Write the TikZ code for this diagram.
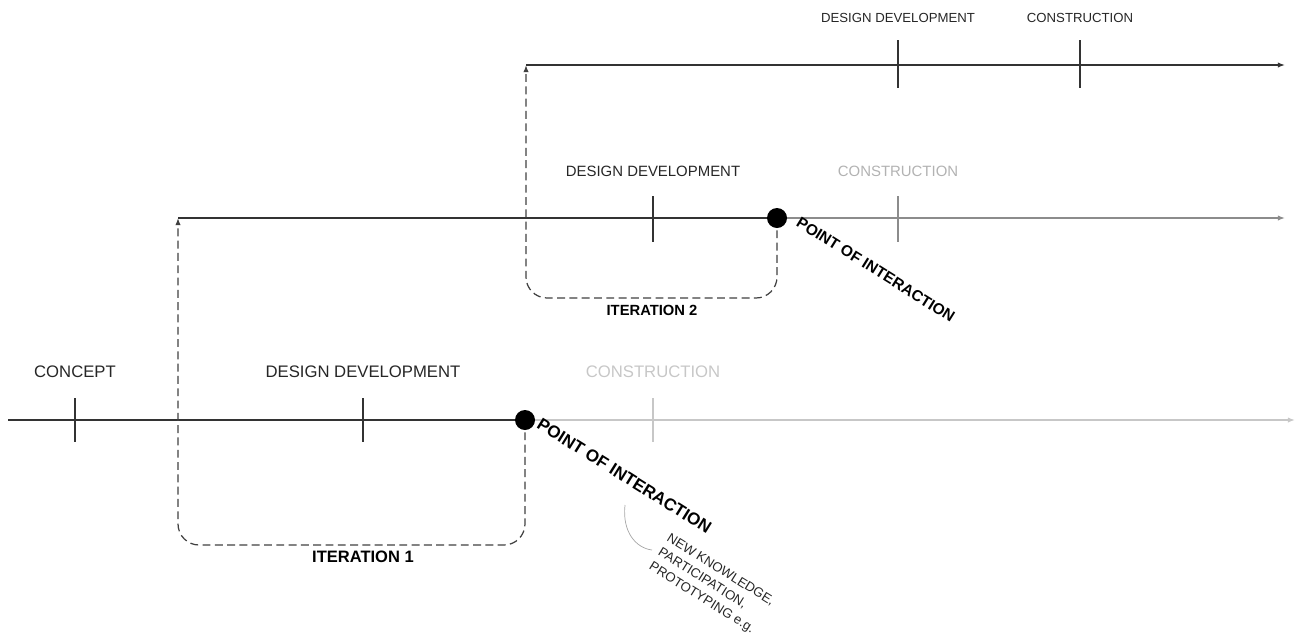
\documentclass[tikz,border=0pt]{standalone}
\usepackage{fontspec}
\setmainfont{Liberation Sans}
\usetikzlibrary{positioning, arrows.meta, calc}

\begin{document}
\begin{tikzpicture}[
    x=0.02cm, y=-0.02cm,
    % line styles
    phase/.style={draw=black!80, line width=0.9pt},
    fade/.style={draw=black!45, line width=0.9pt},
    faint/.style={draw=black!22, line width=0.9pt},
    phasetick/.style={draw=black!80, line width=0.6pt},
    iter/.style={draw=black!75, line width=0.7pt, dash pattern=on 4.5pt off 2.5pt, rounded corners=12pt},
    tip/.style={-{Latex[length=4pt, width=3pt]}},
    % node styles
    poi/.style={circle, fill=black, inner sep=0pt, minimum size=0.4cm},
    stage/.style={text=black!85, inner sep=0pt},
    poitext/.style={rotate=-32, anchor=north west, inner sep=0pt, font=\bfseries\fontsize{9.7}{11}\selectfont},
    itertext/.style={font=\bfseries, inner sep=0pt}
]
\useasboundingbox (0,0) rectangle (1297,637);

% --- coordinates of the three timelines ---
\coordinate (start1) at (8,420);
\coordinate (int1) at (525,420);
\coordinate (end1) at (1295,420);
\coordinate (start2) at (178,218);
\coordinate (int2) at (777,218);
\coordinate (end2) at (1285,218);
\coordinate (start3) at (526,65);
\coordinate (end3) at (1285,65);

% --- first timeline ---
\draw[phase] (start1) -- (int1);
\draw[faint, tip] (int1) -- (end1);
\foreach \x in {75,363} \draw[phasetick] (\x,398) -- (\x,442);
\draw[phasetick, draw=black!22] (653,398) -- (653,442);
\node[stage, font=\fontsize{9.5}{11}\selectfont] (concept) at (75,372) {CONCEPT};
\node[stage, font=\fontsize{9.5}{11}\selectfont] (dd1) at (363,372) {DESIGN DEVELOPMENT};
\node[stage, text=black!22, font=\fontsize{9.5}{11}\selectfont] (con1) at (653,372) {CONSTRUCTION};

% --- iteration 1 ---
\draw[iter, tip] (int1) -- (int1 |- 0,545) -- (start2 |- 0,545) -- (start2);
\node[itertext, font=\bfseries\fontsize{9.4}{11}\selectfont] (iter1) at (363,557) {ITERATION 1};

% --- second timeline ---
\draw[phase] (start2) -- (int2);
\draw[fade, tip] (int2) -- (end2);
\draw[phasetick] (653,196) -- (653,242);
\draw[phasetick, draw=black!45] (898,196) -- (898,242);
\node[stage, font=\fontsize{8.5}{10}\selectfont] (dd2) at (653,171) {DESIGN DEVELOPMENT};
\node[stage, text=black!30, font=\fontsize{8.5}{10}\selectfont] (con2) at (898,171) {CONSTRUCTION};

% --- iteration 2 ---
\draw[iter, tip] (int2) -- (int2 |- 0,298) -- (start3 |- 0,298) -- (start3);
\node[itertext, font=\bfseries\fontsize{8.4}{10}\selectfont] (iter2) at (652,310) {ITERATION 2};

% --- third timeline ---
\draw[phase, tip] (start3) -- (end3);
\foreach \x in {898,1080} \draw[phasetick] (\x,40) -- (\x,88);
\node[stage, font=\fontsize{7.5}{9}\selectfont] (dd3) at (898,18) {DESIGN DEVELOPMENT};
\node[stage, font=\fontsize{7.5}{9}\selectfont] (con3) at (1080,18) {CONSTRUCTION};

% --- points of interaction ---
\node[poi] (poi1) at (int1) {};
\node[poi] (poi2) at (int2) {};
\node[poitext] (poitext1) at (542,417) {POINT OF INTERACTION};
\node[poitext, font=\bfseries\fontsize{8.8}{11}\selectfont] (poitext2) at (801,216) {POINT OF INTERACTION};

% --- note ---
\coordinate (notea) at (625,505);
\coordinate (noteb) at (652,550);
\draw[black!35, line width=0.4pt] (notea) .. controls (622,532) and (636,548) .. (noteb);
\node[rotate=-32, anchor=north west, align=left, inner sep=0pt, text=black!85,
      font=\fontsize{7.5}{9.6}\selectfont] (note) at (671,532)
    {NEW KNOWLEDGE,\\PARTICIPATION,\\PROTOTYPING e.g.};

\end{tikzpicture}
\end{document}
